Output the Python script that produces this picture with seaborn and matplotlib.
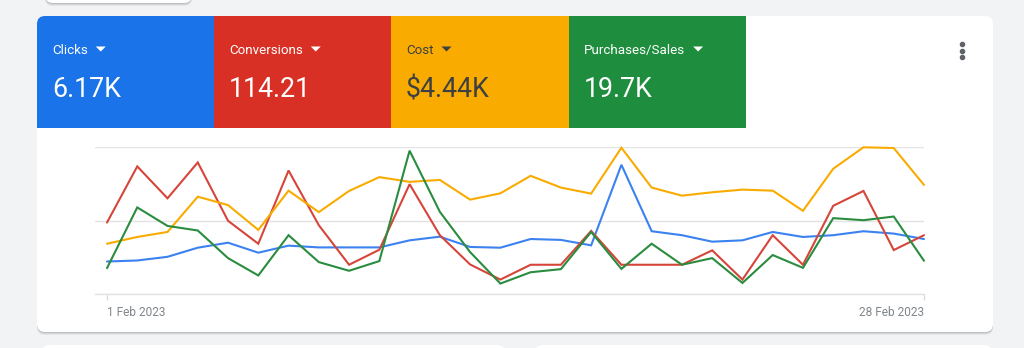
import numpy as np
import pandas as pd
import matplotlib
matplotlib.use("Agg")
import matplotlib.pyplot as plt
from matplotlib.patches import FancyBboxPatch, Rectangle, Polygon
import seaborn as sns

# ---- data (relative index, 0 = bottom gridline, 100 = top gridline) ----
days = list(range(1, 29))
clicks = [22.1, 22.8, 25.3, 31.5, 34.9, 28.1, 32.9, 31.7, 31.7, 31.7, 36.5, 39.0, 32.0, 31.5,
          37.4, 36.8, 33.1, 87.9, 42.7, 40.0, 35.6, 36.5, 42.2, 38.8, 40.0, 42.7, 41.1, 37.4]
conversions = [48.6, 86.8, 65.1, 89.5, 49.8, 34.2, 84.0, 46.8, 19.9, 30.1, 74.7, 40.0, 20.1, 9.8,
               19.9, 19.9, 42.9, 19.9, 19.9, 19.9, 29.7, 9.8, 40.0, 19.9, 60.0, 70.1, 29.9, 40.0]
cost = [34.2, 38.8, 42.2, 66.2, 60.5, 43.6, 70.3, 55.7, 70.1, 79.5, 76.3, 77.6, 64.2, 68.5,
        80.4, 72.4, 68.3, 99.5, 72.4, 66.9, 69.2, 71.0, 70.3, 56.6, 85.2, 99.8, 99.3, 74.2]
purchases = [17.6, 58.9, 46.3, 43.2, 24.4, 12.6, 40.0, 21.7, 15.8, 22.4, 97.5, 55.9, 28.5, 7.1,
             14.8, 16.9, 42.2, 17.1, 34.2, 19.9, 24.4, 7.5, 26.5, 17.8, 51.6, 50.2, 52.7, 22.6]
metric_names = ["Clicks", "Conversions", "Cost", "Purchases/Sales"]
metric_totals = ["6.17K", "114.21", "$4.44K", "19.7K"]
tick_labels = ["1 Feb 2023", "28 Feb 2023"]

series = {"Clicks": clicks, "Conversions": conversions, "Cost": cost, "Purchases/Sales": purchases}
df = pd.concat([pd.DataFrame({"day": days, "value": v, "metric": k}) for k, v in series.items()])

tile_colors = ["#1a73e8", "#d93025", "#f9ab00", "#1e8e3e"]
text_colors = ["white", "white", "#3c4043", "white"]
line_colors = {"Clicks": "#3b82f0", "Conversions": "#d6453a", "Cost": "#f9ab00", "Purchases/Sales": "#2a8c3f"}

sns.set_theme(style="white")
plt.rcParams["font.family"] = ["Roboto", "DejaVu Sans"]

W, H = 1024, 348
fig = plt.figure(figsize=(W / 100, H / 100), dpi=100)
fig.patch.set_facecolor("#f1f3f4")

# canvas in pixel coordinates
cv = fig.add_axes([0, 0, 1, 1])
cv.set_xlim(0, W)
cv.set_ylim(H, 0)
cv.axis("off")
cv.set_facecolor("none")

def card(x0, y0, x1, y1, r=8, z=1):
    for off, a in [(3, 0.05), (2, 0.07), (1, 0.10)]:
        cv.add_patch(FancyBboxPatch((x0, y0 + off), x1 - x0, y1 - y0,
                                    boxstyle=f"round,pad=0,rounding_size={r}",
                                    fc="black", ec="none", alpha=a, zorder=z))
    p = FancyBboxPatch((x0, y0), x1 - x0, y1 - y0, boxstyle=f"round,pad=0,rounding_size={r}",
                       fc="white", ec="none", zorder=z + 0.5)
    cv.add_patch(p)
    return p

# partial neighbouring cards
card(45, -30, 192, 3, r=8)
card(42, 345, 505, 380, r=8)
card(535, 345, 992, 380, r=8)

main = card(37, 16, 993, 332, r=8)

fig.canvas.draw()
renderer = fig.canvas.get_renderer()
inv = cv.transData.inverted()

tile_x = [37, 214, 391, 569, 746]
for i in range(4):
    rect = Rectangle((tile_x[i], 16), tile_x[i + 1] - tile_x[i], 112, fc=tile_colors[i], ec="none", zorder=3)
    cv.add_patch(rect)
    rect.set_clip_path(main)
    tx = tile_x[i] + 15
    t = cv.text(tx, 54, metric_names[i], color=text_colors[i], fontsize=9.6,
                ha="left", va="baseline", zorder=4)
    bb = t.get_window_extent(renderer)
    xr = inv.transform((bb.x1, bb.y0))[0]
    ax0 = xr + 8
    cv.add_patch(Polygon([(ax0, 46.5), (ax0 + 10, 46.5), (ax0 + 5, 51.5)], closed=True,
                         fc=text_colors[i], ec="none", zorder=4))
    cv.text(tx, 97, metric_totals[i], color=text_colors[i], fontsize=19.3,
            ha="left", va="baseline", zorder=4)

# three-dot menu
cv.scatter([962, 962, 962], [44, 50.5, 57], s=9, color="#5f6368", zorder=4)

# ---- line chart ----
px_left, px_right, px_top, px_bot = 95, 924, 147, 294
ax = fig.add_axes([px_left / W, 1 - px_bot / H, (px_right - px_left) / W, (px_bot - px_top) / H])
ax.set_facecolor("none")
ax.set_zorder(5)
sns.lineplot(data=df, x="day", y="value", hue="metric", palette=line_colors,
             linewidth=1.5, ax=ax, legend=False)
for ln in ax.lines:
    ln.set_clip_on(False)
    ln.set_solid_joinstyle("miter")
x0 = days[0] - 12 / ((px_right - 107) / 27)
ax.set_xlim(x0, days[-1])
ax.set_ylim(0, 100)
ax.set_yticks([0, 50, 100])
ax.yaxis.grid(True, color="#e3e3e3", linewidth=1)
ax.set_yticklabels([])
ax.tick_params(axis="y", length=0)
for s in ["top", "right", "left"]:
    ax.spines[s].set_visible(False)
ax.spines["bottom"].set_color("#e3e3e3")
ax.spines["bottom"].set_linewidth(1)
ax.set_xticks([days[0], days[-1]])
ax.set_xticklabels(tick_labels, fontsize=8.6, color="#80868b")
ax.tick_params(axis="x", length=4, color="#dadce0", width=1, pad=5, bottom=True)
lbls = ax.get_xticklabels()
lbls[0].set_ha("left")
lbls[1].set_ha("right")
ax.set_xlabel("")
ax.set_ylabel("")

fig.savefig("out.png", dpi=100, facecolor=fig.get_facecolor())
